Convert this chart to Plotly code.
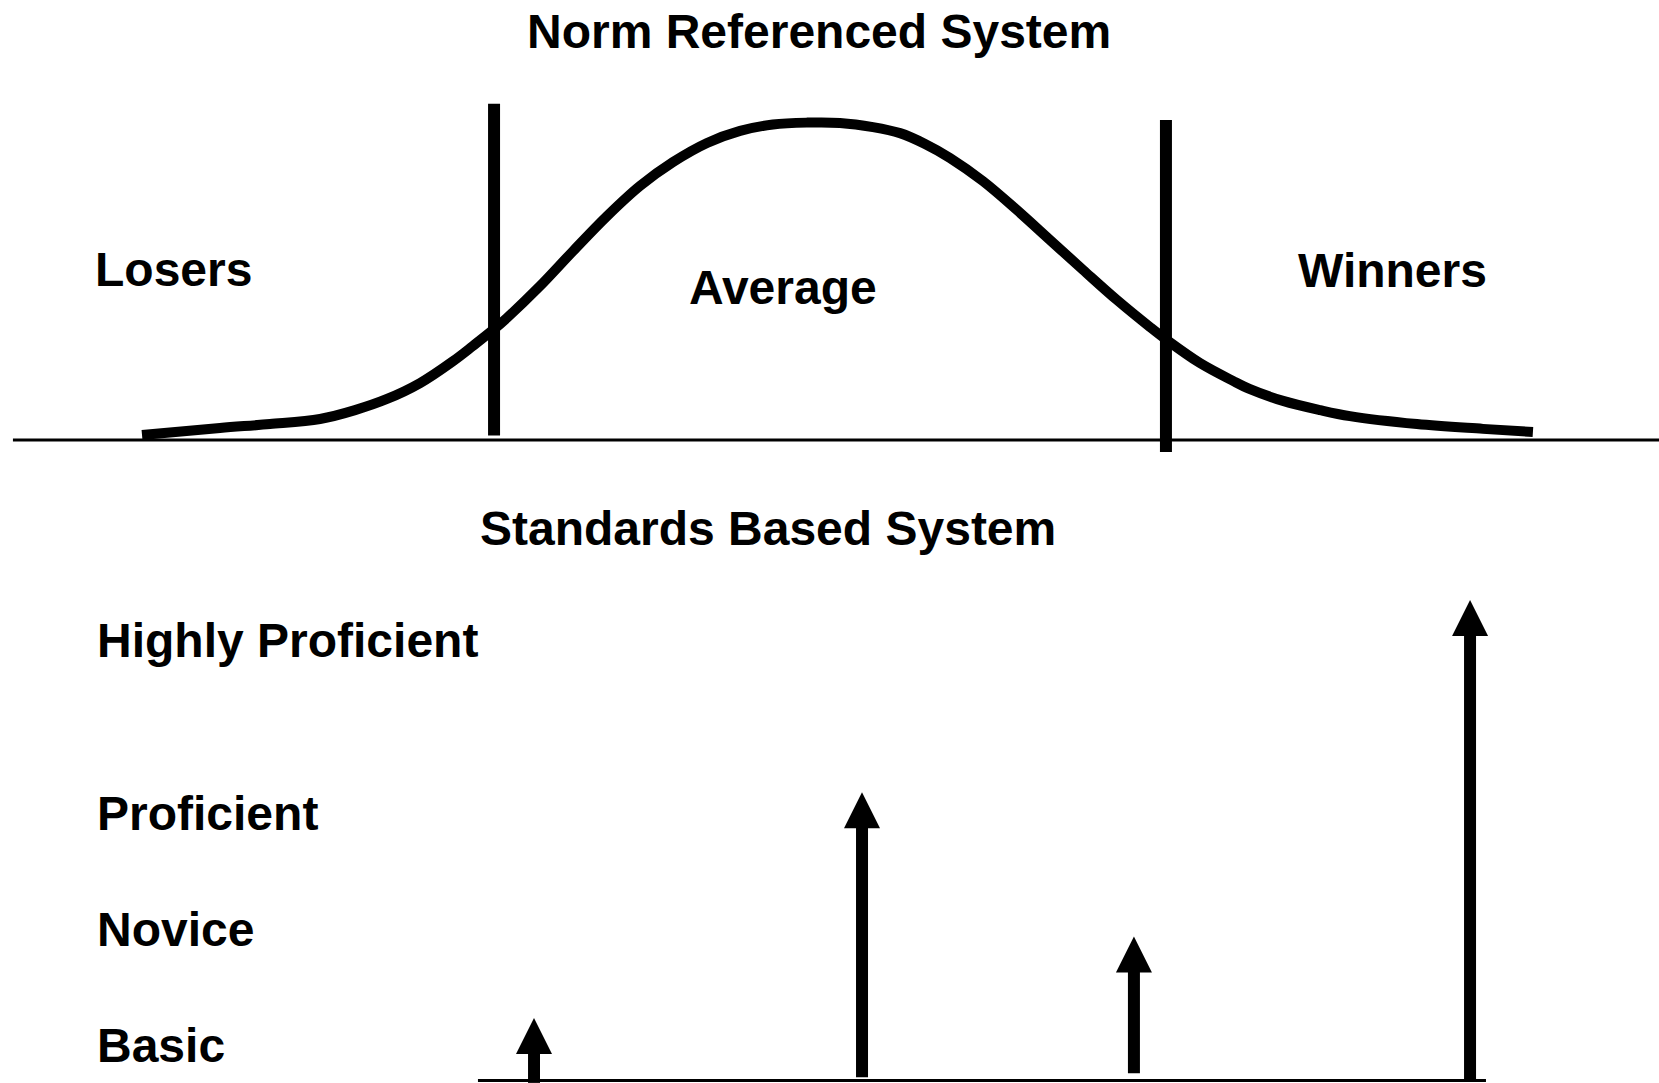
import plotly.graph_objects as go

# ---------------- DATA ----------------
# Top panel: bell curve (score 0-100 on x, relative frequency on y)
curve_x = [8.56, 13.26, 16.27, 19.29, 21.40, 23.33, 25.32, 27.31, 28.51, 29.72,
           30.56, 32.55, 34.54, 36.59, 38.58, 40.57, 42.62, 44.61, 46.59, 48.64,
           50.63, 52.62, 54.25, 55.76, 57.26, 59.25, 61.30, 63.29, 65.28, 67.33,
           69.32, 70.34, 72.33, 74.32, 75.35, 77.34, 79.57, 81.37, 85.41, 89.39,
           92.40]
curve_y = [0.016, 0.038, 0.050, 0.066, 0.094, 0.129, 0.179, 0.248, 0.296, 0.346,
           0.384, 0.484, 0.594, 0.704, 0.799, 0.874, 0.934, 0.972, 0.992, 0.998,
           0.997, 0.984, 0.965, 0.931, 0.887, 0.814, 0.723, 0.629, 0.535, 0.440,
           0.355, 0.314, 0.242, 0.186, 0.160, 0.123, 0.094, 0.075, 0.050, 0.035,
           0.025]

cut_x = [29.78, 70.28]            # cut-off scores
cut_y0 = [0.014, -0.038]          # bottom of the cut lines
cut_y1 = [1.057, 1.006]           # top of the cut lines

groups = ["Losers", "Average", "Winners"]
group_x = [5.59, 41.41, 78.12]
group_y = [0.536, 0.480, 0.533]

# Bottom panel: achievement levels and student arrows
levels = ["Highly Proficient", "Proficient", "Novice", "Basic"]
level_y = [91.6, 55.6, 31.4, 7.3]
level_x = 5.70

arrow_x = [32.19, 51.96, 68.35, 88.61]
arrow_tip = [13.0, 60.0, 30.0, 100.0]
arrow_start = [-0.5, 0.7, 1.5, 0.0]

titles = ["Norm Referenced System", "Standards Based System"]

# ---------------- STYLE / LAYOUT ----------------
W, H = 1659, 1083
FONT = "Liberation Sans, Arial, Helvetica, sans-serif"
FS = 48

top_dom = [(H - 460) / H, 1.0]
bot_dom = [0.0, (H - 460) / H]
top_yr = [-0.0629, 1.3836]
bot_yr = [-0.52, 129.16]
x_rng = [0, 100]

px_per_xunit = W / 100.0
px_per_bunit = (bot_dom[1] - bot_dom[0]) * H / (bot_yr[1] - bot_yr[0])

HEAD_LEN_PX = 36
HEAD_W_PX = 36
head_len = HEAD_LEN_PX / px_per_bunit
head_hw = (HEAD_W_PX / 2) / px_per_xunit

fig = go.Figure()

# baseline top
fig.add_trace(go.Scatter(x=[0.78, 100], y=[0, 0], mode="lines",
                         line=dict(color="black", width=3),
                         xaxis="x", yaxis="y", hoverinfo="skip"))
# bell curve
fig.add_trace(go.Scatter(x=curve_x, y=curve_y, mode="lines",
                         line=dict(color="black", width=10, shape="spline", smoothing=1.0),
                         xaxis="x", yaxis="y", hoverinfo="skip"))
# cut lines
for cx, a, b in zip(cut_x, cut_y0, cut_y1):
    fig.add_trace(go.Scatter(x=[cx, cx], y=[a, b], mode="lines",
                             line=dict(color="black", width=12),
                             xaxis="x", yaxis="y", hoverinfo="skip"))

# bottom baseline
fig.add_trace(go.Scatter(x=[28.81, 89.57], y=[0, 0], mode="lines",
                         line=dict(color="black", width=3),
                         xaxis="x2", yaxis="y2", hoverinfo="skip"))
# arrows
for ax_, tip, st in zip(arrow_x, arrow_tip, arrow_start):
    fig.add_trace(go.Scatter(x=[ax_, ax_], y=[st, tip - head_len + 0.5], mode="lines",
                             line=dict(color="black", width=12),
                             xaxis="x2", yaxis="y2", hoverinfo="skip"))
    fig.add_trace(go.Scatter(x=[ax_ - head_hw, ax_ + head_hw, ax_, ax_ - head_hw],
                             y=[tip - head_len, tip - head_len, tip, tip - head_len],
                             mode="lines", fill="toself", fillcolor="black",
                             line=dict(color="black", width=0),
                             xaxis="x2", yaxis="y2", hoverinfo="skip"))

annotations = []
txtfont = dict(family=FONT, size=FS, color="black", weight="bold")
for g, gx, gy in zip(groups, group_x, group_y):
    annotations.append(dict(text=g, x=gx, y=gy, xref="x", yref="y",
                            xanchor="left", yanchor="middle", showarrow=False, font=txtfont))
for lv, ly in zip(levels, level_y):
    annotations.append(dict(text=lv, x=level_x, y=ly, xref="x2", yref="y2",
                            xanchor="left", yanchor="middle", showarrow=False, font=txtfont))
annotations.append(dict(text=titles[0], x=818.5 / W, y=(H - 31.4) / H, xref="paper", yref="paper",
                        xanchor="center", yanchor="middle", showarrow=False, font=txtfont))
annotations.append(dict(text=titles[1], x=768 / W, y=(H - 528.4) / H, xref="paper", yref="paper",
                        xanchor="center", yanchor="middle", showarrow=False, font=txtfont))

hidden = dict(visible=False, showgrid=False, zeroline=False, fixedrange=True)
fig.update_layout(
    width=W, height=H, autosize=False,
    margin=dict(l=0, r=0, t=0, b=0, pad=0),
    paper_bgcolor="white", plot_bgcolor="white",
    showlegend=False,
    xaxis=dict(domain=[0, 1], range=x_rng, anchor="y", **hidden),
    yaxis=dict(domain=top_dom, range=top_yr, anchor="x", **hidden),
    xaxis2=dict(domain=[0, 1], range=x_rng, anchor="y2", **hidden),
    yaxis2=dict(domain=bot_dom, range=bot_yr, anchor="x2", **hidden),
    annotations=annotations,
)

fig.write_html("out.html", config={"displayModeBar": False, "staticPlot": True},
               post_script="document.body.style.margin='0';document.body.style.overflow='hidden';")
